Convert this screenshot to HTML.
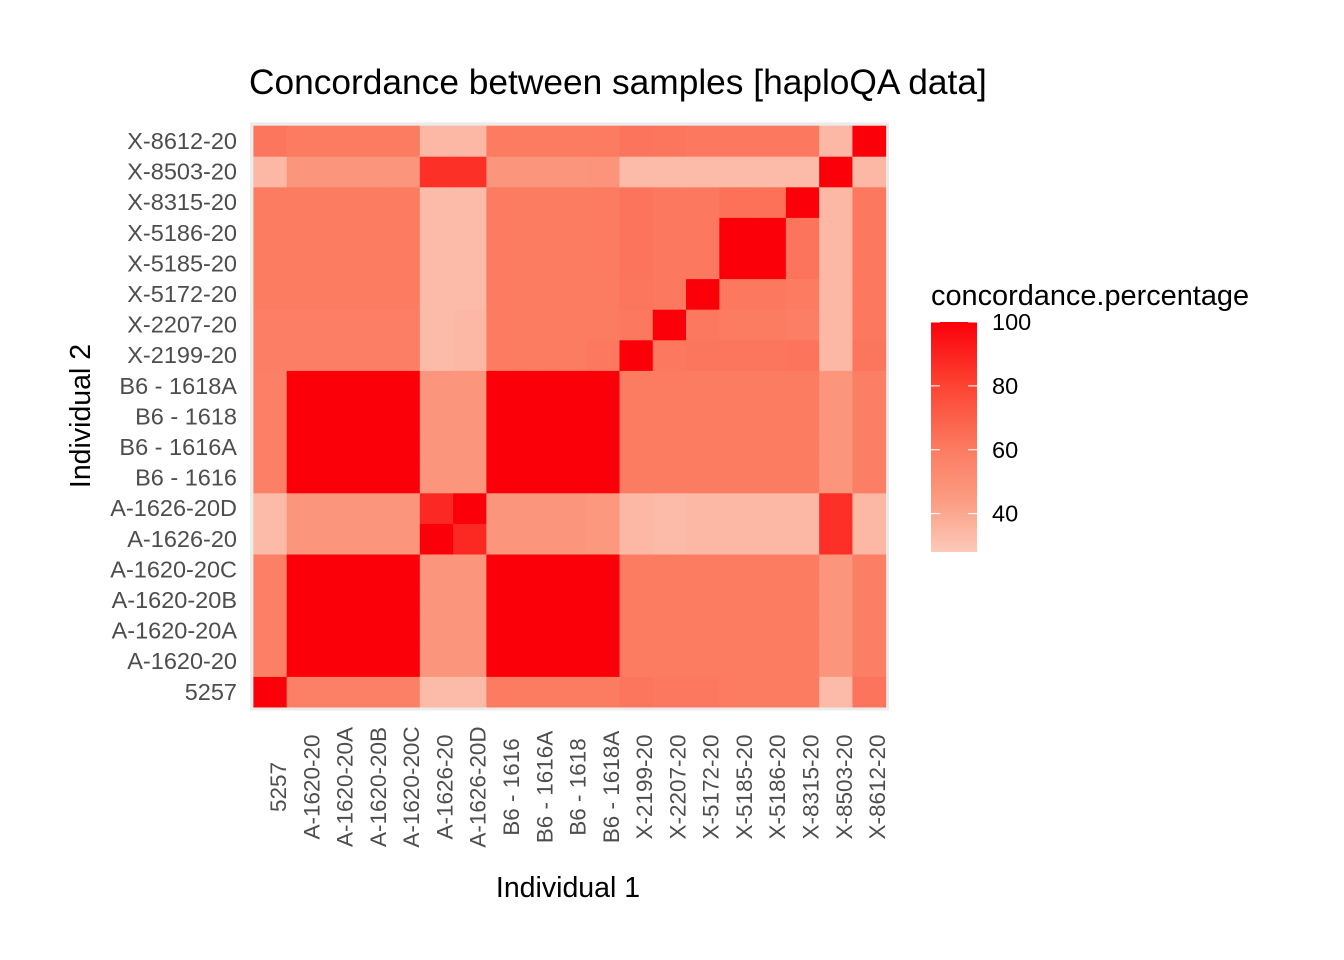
<!DOCTYPE html>
<html><head><meta charset="utf-8">
<style>
html,body{margin:0;padding:0;background:#fff;}
svg{display:block;font-family:"Liberation Sans",Arial,sans-serif;}
</style></head>
<body>
<svg id="chart" width="1344" height="960" viewBox="0 0 1344 960">
<rect width="1344" height="960" fill="#fff"/>
<text x="249" y="94" font-size="35.3" fill="#000">Concordance between samples [haploQA data]</text>
<g id="grid"></g>
<g id="tiles"></g>
<g id="ylabels"></g>
<g id="xlabels"></g>
<text x="568" y="897" font-size="28.5" text-anchor="middle" fill="#000">Individual 1</text>
<text transform="translate(90,416) rotate(-90)" font-size="28.5" text-anchor="middle" fill="#000">Individual 2</text>
<g id="legend">
<text x="931" y="305" font-size="28.9" fill="#000">concordance.percentage</text>
<defs><linearGradient id="lg" x1="0" y1="1" x2="0" y2="0">
<stop offset="0" stop-color="#FDC9B9"/><stop offset="0.236" stop-color="#FB9A80"/><stop offset="0.444" stop-color="#FC7C62"/><stop offset="0.722" stop-color="#FD4432"/><stop offset="1" stop-color="#FB0009"/></linearGradient></defs>
<rect x="931" y="322" width="46" height="230" fill="url(#lg)"/>
</g>
</svg>
<script>
const labels = ["5257","A-1620-20","A-1620-20A","A-1620-20B","A-1620-20C","A-1626-20","A-1626-20D","B6 - 1616","B6 - 1616A","B6 - 1618","B6 - 1618A","X-2199-20","X-2207-20","X-5172-20","X-5185-20","X-5186-20","X-8315-20","X-8503-20","X-8612-20"];
const row5257 = [100,58,58,58,58,33,33,60,60,60,60,62,61,61,60,60,60,33,63];
const rowA = [58,100,100,100,100,47,47,100,100,100,100,60,60,60,60,60,60,47,59];
const rowA1626 = [33,47,47,47,47,100,88,47,47,47,46,34,33,34,34,34,34,86,34];
const rowA1626D = [33,47,47,47,47,88,100,47,47,47,46,34,33,34,34,34,34,86,34];
const rowX2199 = [59,59,59,59,59,33,34,60,60,60,61,100,61,62,62,62,63,34,62];
const rowX2207 = [59,59,59,59,59,33,34,60,60,60,60,61,100,61,60,60,59,34,61];
const rowX5172 = [60,60,60,60,60,33,33,60,60,60,60,62,61,100,61,61,60,34,61];
const rowX5185 = [60,60,60,60,60,33,33,60,60,60,60,63,61,61,100,100,63,34,61];
const rowX5186 = [60,60,60,60,60,33,33,60,60,60,60,63,61,61,100,100,63,34,61];
const rowX8315 = [60,60,60,60,60,33,33,60,60,60,60,63,61,61,64,64,100,34,61];
const rowX8503 = [34,47,47,47,47,86,86,47,47,47,48,33,33,33,33,33,33,100,34];
const rowX8612 = [62,60,60,60,60,34,34,60,60,60,60,63,62,61,61,61,61,34,100];
const matrix = [row5257,rowA,rowA,rowA,rowA,rowA1626,rowA1626D,rowA,rowA,rowA,rowA,rowX2199,rowX2207,rowX5172,rowX5185,rowX5186,rowX8315,rowX8503,rowX8612];
const legendTicks = [40,60,80,100];

const NS="http://www.w3.org/2000/svg";
const n=labels.length;
const x0=253.4, cw=33.28, yTop=125.7, ch=30.6;
const vmin=28, vmax=100;
function xc(j){return x0+cw*(j+0.5);}
function yc(i){return yTop+ch*(n-1-i+0.5);}
function legY(v){return 552-(v-vmin)/(vmax-vmin)*230;}
const stops=[[28,[253,201,185]],[45,[251,154,128]],[60,[252,124,98]],[80,[253,68,50]],[100,[251,0,9]]];
function color(v){
  v=Math.max(vmin,Math.min(vmax,v));
  for(let k=0;k<stops.length-1;k++){
    const a=stops[k],b=stops[k+1];
    if(v<=b[0]){const t=(v-a[0])/(b[0]-a[0]);
      const c=a[1].map((q,m)=>Math.round(q+(b[1][m]-q)*t));
      return `rgb(${c[0]},${c[1]},${c[2]})`;}
  }
  return "rgb(251,0,9)";
}
function mk(tag,attrs,parent){const e=document.createElementNS(NS,tag);for(const k in attrs)e.setAttribute(k,attrs[k]);parent.appendChild(e);return e;}
const grid=document.getElementById('grid');
const bg=mk('rect',{x:x0-3.3,y:yTop-3.3,width:cw*n+6.6,height:ch*n+6.6,fill:'#EBEBEB'},grid);


const tiles=document.getElementById('tiles');
for(let i=0;i<n;i++)for(let j=0;j<n;j++){
  const r=mk('rect',{x:xc(j)-cw/2,y:yc(i)-ch/2,width:cw+0.4,height:ch+0.4,fill:color(matrix[i][j])},tiles);
  
  
}
const yl=document.getElementById('ylabels');
for(let i=0;i<n;i++){
  const t=mk('text',{x:237,y:yc(i)+8,'font-size':23.5,'text-anchor':'end',fill:'#4D4D4D'},yl);
  t.textContent=labels[i];
  
  
}
const xl=document.getElementById('xlabels');
for(let j=0;j<n;j++){
  const t=mk('text',{transform:`translate(${xc(j)+16},787) rotate(-90)`,'font-size':22.5,'text-anchor':'middle',fill:'#4D4D4D'},xl);
  t.textContent=labels[j];
  
  
}
const lg=document.getElementById('legend');
legendTicks.forEach(v=>{
  const y=legY(v);
  const a=mk('line',{x1:931,x2:940,y1:y,y2:y,stroke:'#fff','stroke-width':1},lg);
  
  
  const b=mk('line',{x1:968,x2:977,y1:y,y2:y,stroke:'#fff','stroke-width':1},lg);
  
  
  const t=mk('text',{x:992,y:y+8,'font-size':23.5,fill:'#000'},lg);
  t.textContent=v;
  
  
});
</script>
</body></html>
